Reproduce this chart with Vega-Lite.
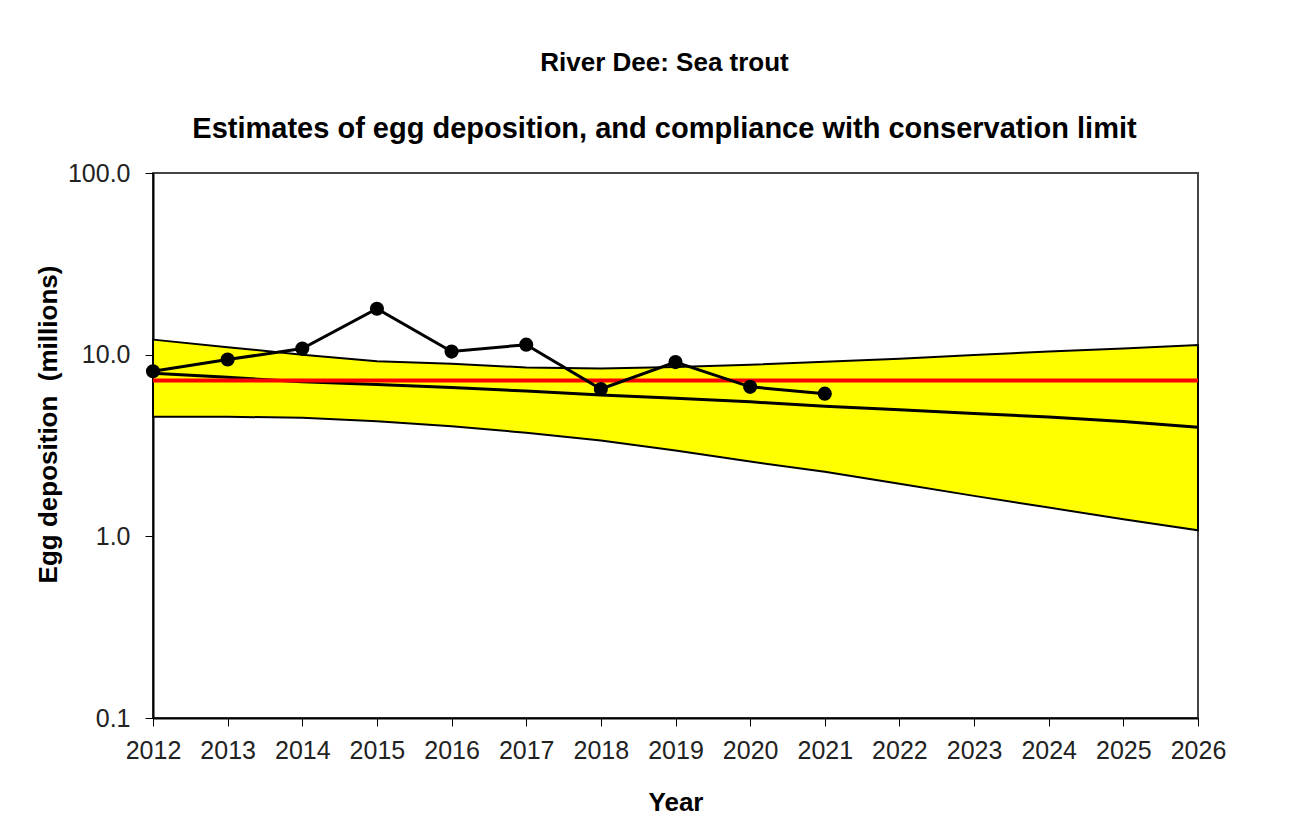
{
  "$schema": "https://vega.github.io/schema/vega-lite/v6.json",
  "width": 1045,
  "height": 545,
  "autosize": {"type": "none"},
  "padding": {"left": 153, "top": 173, "right": 97, "bottom": 122},
  "background": "white",
  "title": {
    "text": "River Dee: Sea trout",
    "subtitle": "Estimates of egg deposition, and compliance with conservation limit",
    "anchor": "middle",
    "frame": "group",
    "dx": -11,
    "offset": 17,
    "font": "Liberation Sans",
    "fontSize": 26,
    "fontWeight": "bold",
    "color": "black",
    "subtitleFont": "Liberation Sans",
    "subtitleFontSize": 29,
    "subtitleFontWeight": "bold",
    "subtitleColor": "black",
    "subtitlePadding": 39
  },
  "config": {
    "view": {"stroke": "#444444", "strokeWidth": 2},
    "axis": {
      "labelFont": "Liberation Sans",
      "titleFont": "Liberation Sans",
      "labelColor": "#222222",
      "titleColor": "black",
      "domainColor": "black",
      "tickColor": "black",
      "grid": false
    }
  },
  "datasets": {
    "band": [
      {"year": 2012, "upper": 12.1, "mid": 7.9, "lower": 4.55, "limit": 7.2},
      {"year": 2013, "upper": 11.0, "mid": 7.5, "lower": 4.55, "limit": 7.2},
      {"year": 2014, "upper": 10.0, "mid": 7.1, "lower": 4.5, "limit": 7.2},
      {"year": 2015, "upper": 9.2, "mid": 6.85, "lower": 4.3, "limit": 7.2},
      {"year": 2016, "upper": 8.9, "mid": 6.6, "lower": 4.03, "limit": 7.2},
      {"year": 2017, "upper": 8.5, "mid": 6.3, "lower": 3.72, "limit": 7.2},
      {"year": 2018, "upper": 8.4, "mid": 6.0, "lower": 3.37, "limit": 7.2},
      {"year": 2019, "upper": 8.55, "mid": 5.75, "lower": 2.97, "limit": 7.2},
      {"year": 2020, "upper": 8.8, "mid": 5.5, "lower": 2.58, "limit": 7.2},
      {"year": 2021, "upper": 9.15, "mid": 5.2, "lower": 2.27, "limit": 7.2},
      {"year": 2022, "upper": 9.5, "mid": 4.98, "lower": 1.95, "limit": 7.2},
      {"year": 2023, "upper": 9.95, "mid": 4.75, "lower": 1.67, "limit": 7.2},
      {"year": 2024, "upper": 10.4, "mid": 4.54, "lower": 1.44, "limit": 7.2},
      {"year": 2025, "upper": 10.8, "mid": 4.28, "lower": 1.24, "limit": 7.2},
      {"year": 2026, "upper": 11.3, "mid": 3.98, "lower": 1.08, "limit": 7.2}
    ],
    "obs": [
      {"year": 2012, "eggs": 8.1},
      {"year": 2013, "eggs": 9.4},
      {"year": 2014, "eggs": 10.8},
      {"year": 2015, "eggs": 17.9},
      {"year": 2016, "eggs": 10.4},
      {"year": 2017, "eggs": 11.35},
      {"year": 2018, "eggs": 6.47},
      {"year": 2019, "eggs": 9.1},
      {"year": 2020, "eggs": 6.65},
      {"year": 2021, "eggs": 6.1}
    ]
  },
  "encoding": {
    "x": {
      "field": "year",
      "type": "quantitative",
      "scale": {"domain": [2012, 2026], "nice": false, "zero": false},
      "axis": {
        "title": "Year",
        "values": [2012, 2013, 2014, 2015, 2016, 2017, 2018, 2019, 2020, 2021, 2022, 2023, 2024, 2025, 2026],
        "format": "d",
        "labelFontSize": 25,
        "titleFontSize": 26,
        "titleFontWeight": "bold",
        "tickSize": 8,
        "labelPadding": 12,
        "titlePadding": 26,
        "domainWidth": 2,
        "labelFlush": false,
        "labelOverlap": false
      }
    }
  },
  "layer": [
    {
      "data": {"name": "band"},
      "mark": {"type": "area", "color": "#FFFF00", "stroke": "black", "strokeWidth": 2, "fillOpacity": 1},
      "encoding": {
        "y": {
          "field": "upper",
          "type": "quantitative",
          "scale": {"type": "log", "domain": [0.1, 100], "nice": false},
          "axis": {
            "title": "Egg deposition \u00a0(millions)",
            "values": [0.1, 1, 10, 100],
            "format": ".1f",
            "labelFontSize": 25,
            "titleFontSize": 26,
            "titleFontWeight": "bold",
            "titleY": 251,
            "tickSize": 8,
            "labelPadding": 15,
            "titlePadding": 6,
            "domainWidth": 2,
            "labelFlush": false,
            "labelOverlap": false
          }
        },
        "y2": {"field": "lower"}
      }
    },
    {
      "data": {"name": "band"},
      "mark": {"type": "line", "color": "black", "strokeWidth": 3},
      "encoding": {"y": {"field": "mid", "type": "quantitative"}}
    },
    {
      "data": {"name": "band"},
      "mark": {"type": "line", "color": "#FF0000", "strokeWidth": 4},
      "encoding": {"y": {"field": "limit", "type": "quantitative"}}
    },
    {
      "data": {"name": "obs"},
      "mark": {"type": "line", "color": "black", "strokeWidth": 3},
      "encoding": {"y": {"field": "eggs", "type": "quantitative"}}
    },
    {
      "data": {"name": "obs"},
      "mark": {"type": "point", "filled": true, "color": "black", "size": 200, "opacity": 1},
      "encoding": {"y": {"field": "eggs", "type": "quantitative"}}
    }
  ]
}
